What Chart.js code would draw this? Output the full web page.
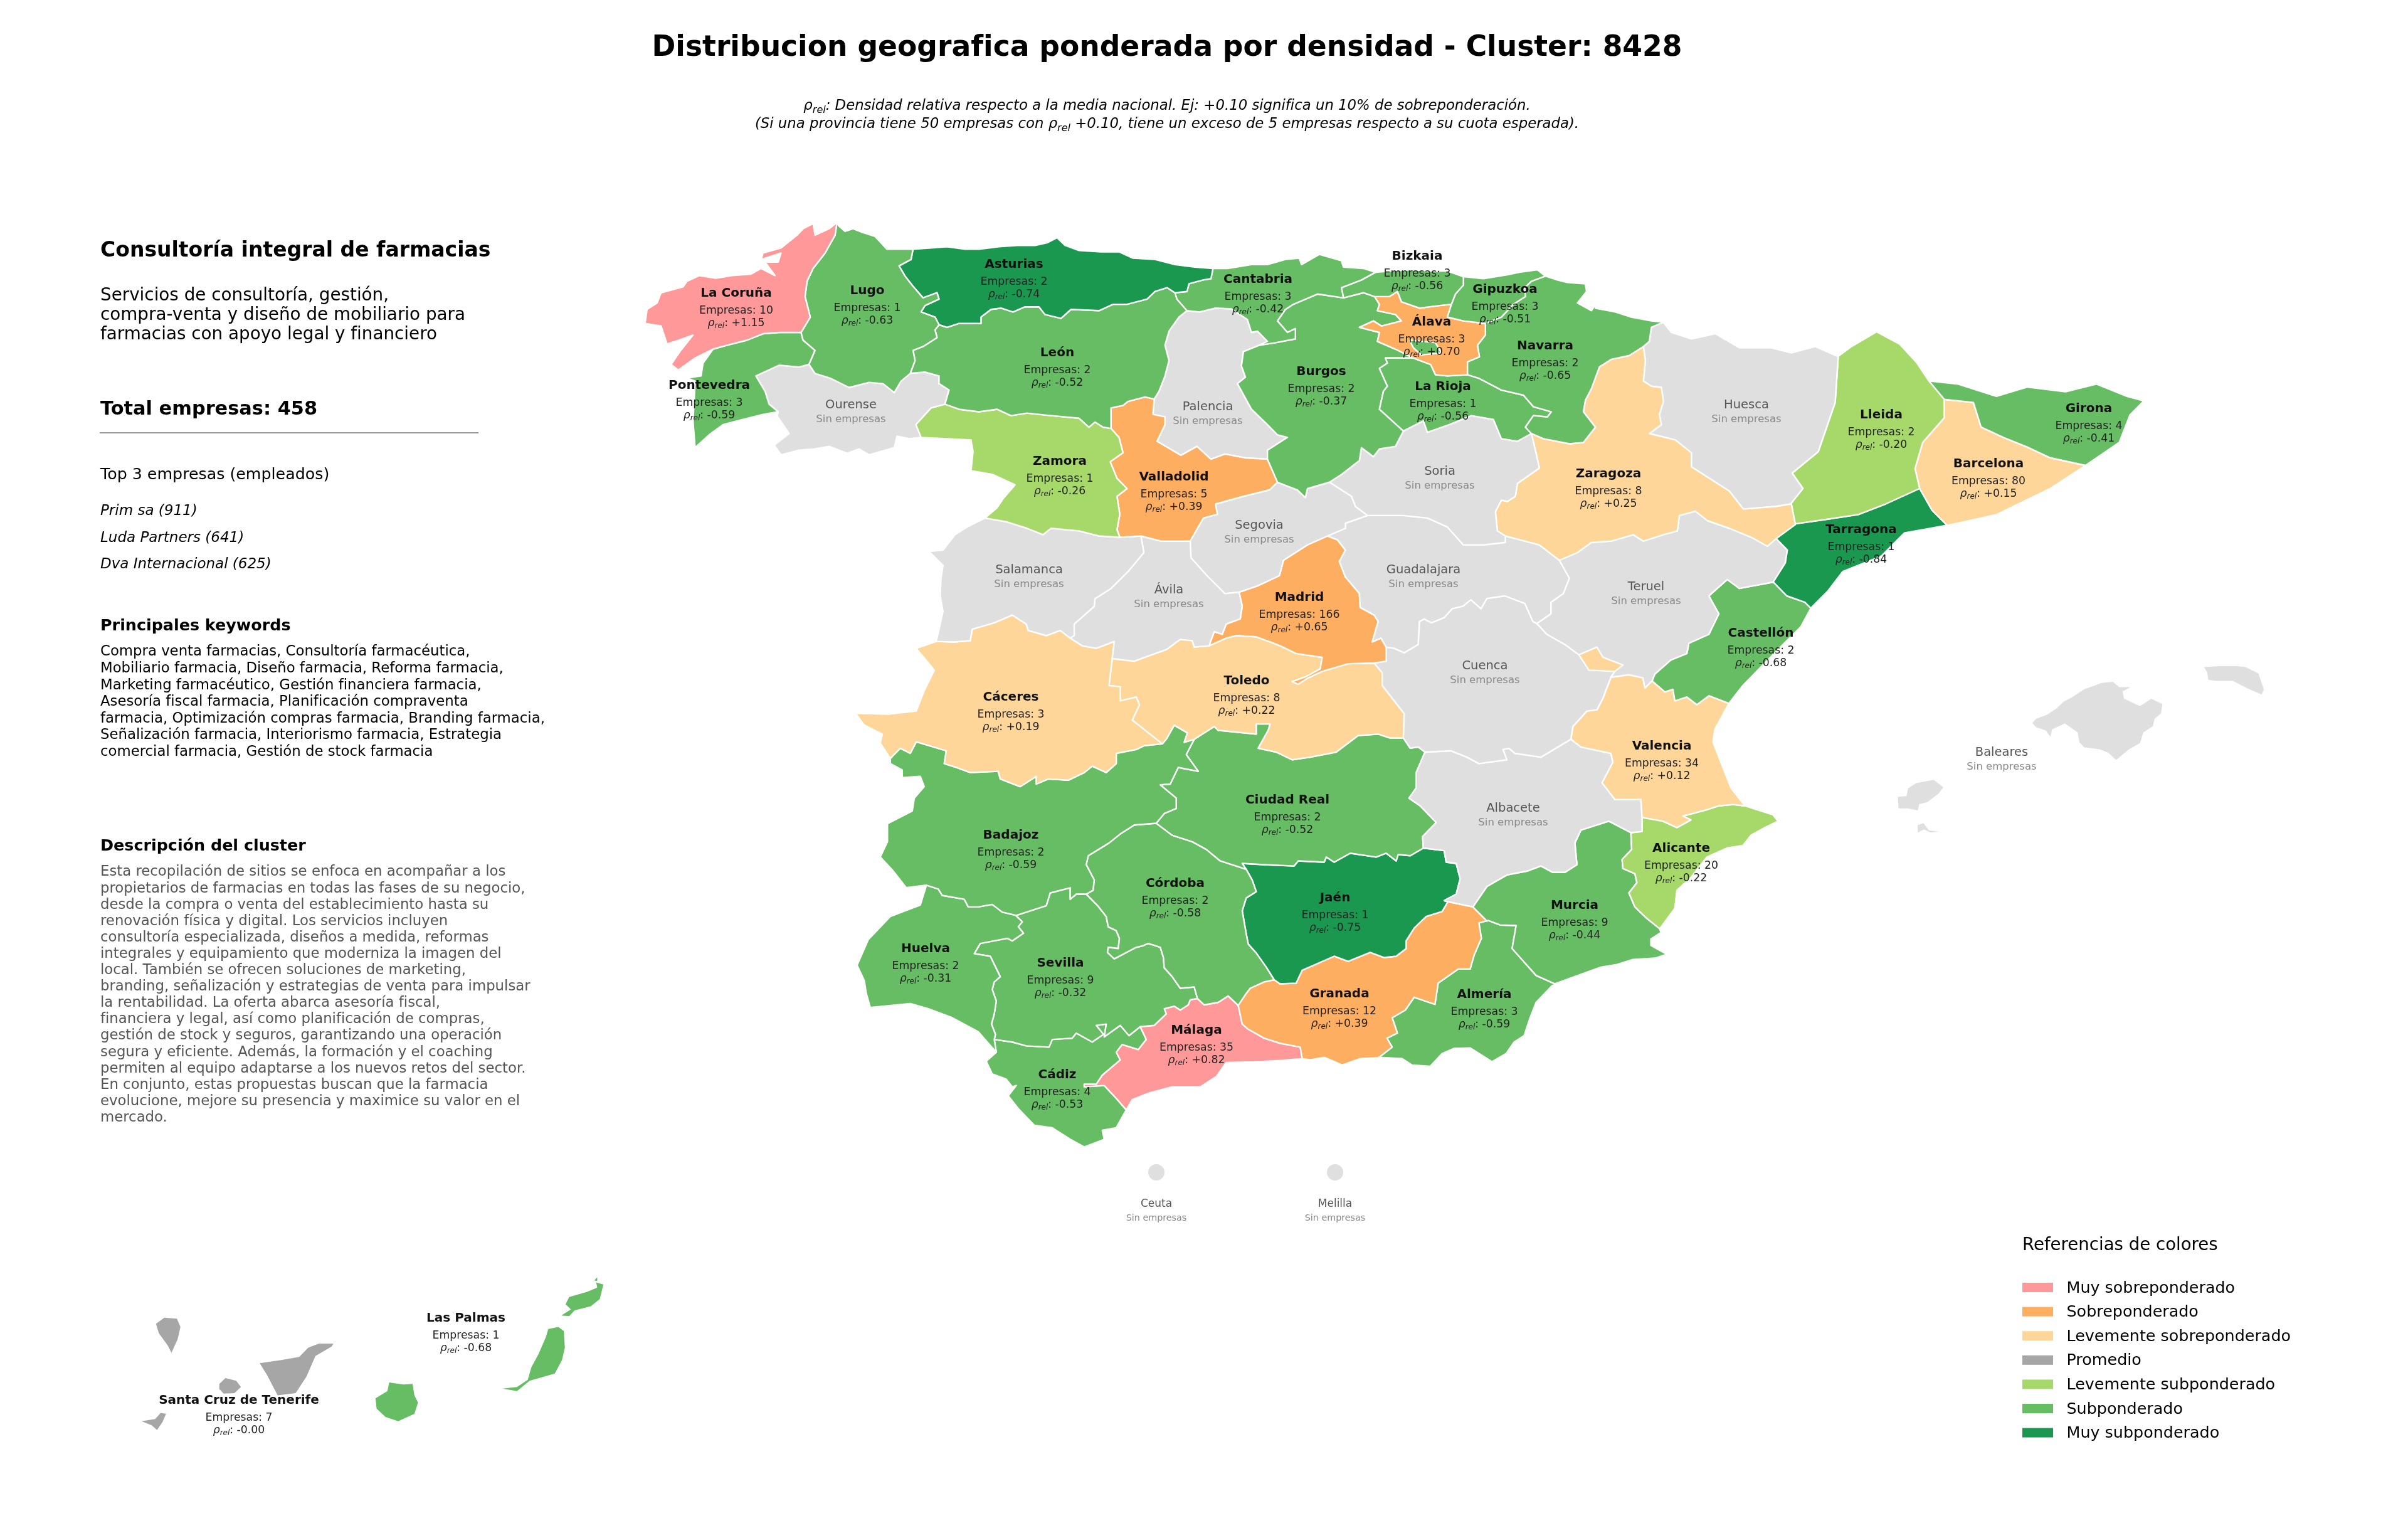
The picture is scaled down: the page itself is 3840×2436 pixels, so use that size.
<!DOCTYPE html>
<html lang="es">
<head>
<meta charset="utf-8">
<title>Distribucion geografica</title>
<script src="https://cdn.jsdelivr.net/npm/chart.js@4"></script>
<style>
  html,body{margin:0;padding:0;background:#fff}
  canvas{display:block}
</style>
</head>
<body>
<canvas id="map" width="3840" height="2436"></canvas>
<script>
// provinces and what the picture says about each
const provinceCodes = ['cor','lug','ast','can','biz','gip','ala','nav','rio','bur','leo','pon','our','zam','vll','pal','sal','avi','seg','sor','zar','hue','lle','gir','bar','tar','gua','mad','ter','cue','cac','tol','cas','vlc','alb','bad','ciu','ali','cdb','jae','mur','hlv','sev','gra','alm','mal','cad','bal','lpa','tfe','ceu','mel'];
const provinceNames = ['La Coruña','Lugo','Asturias','Cantabria','Bizkaia','Gipuzkoa','Álava','Navarra','La Rioja','Burgos','León','Pontevedra','Ourense','Zamora','Valladolid','Palencia','Salamanca','Ávila','Segovia','Soria','Zaragoza','Huesca','Lleida','Girona','Barcelona','Tarragona','Guadalajara','Madrid','Teruel','Cuenca','Cáceres','Toledo','Castellón','Valencia','Albacete','Badajoz','Ciudad Real','Alicante','Córdoba','Jaén','Murcia','Huelva','Sevilla','Granada','Almería','Málaga','Cádiz','Baleares','Las Palmas','Santa Cruz de Tenerife','Ceuta','Melilla'];
const empresas = [10,1,2,3,3,3,3,2,1,2,2,3,0,1,5,0,0,0,0,0,8,0,2,4,80,1,0,166,0,0,3,8,2,34,0,2,2,20,2,1,9,2,9,12,3,35,4,0,1,7,0,0];
const rhoRel = ['+1.15','-0.63','-0.74','-0.42','-0.56','-0.51','+0.70','-0.65','-0.56','-0.37','-0.52','-0.59',null,'-0.26','+0.39',null,null,null,null,null,'+0.25',null,'-0.20','-0.41','+0.15','-0.84',null,'+0.65',null,null,'+0.19','+0.22','-0.68','+0.12',null,'-0.59','-0.52','-0.22','-0.58','-0.75','-0.44','-0.31','-0.32','+0.39','-0.59','+0.82','-0.53',null,'-0.68','-0.00',null,null];

// legend
const legendLabels = ['Muy sobreponderado','Sobreponderado','Levemente sobreponderado','Promedio','Levemente subponderado','Subponderado','Muy subponderado'];
const legendColors = ['#FF9999','#FDAE61','#FED69A','#A6A6A6','#A6D96A','#66BD63','#1A9850'];
const noDataColor = '#DFDFDF';

// texts
const mainTitle = 'Distribucion geografica ponderada por densidad - Cluster: 8428';
const clusterName = 'Consultoría integral de farmacias';
const clusterSummary = ['Servicios de consultoría, gestión,','compra-venta y diseño de mobiliario para','farmacias con apoyo legal y financiero'];
const totalText = 'Total empresas: 458';
const topHeading = 'Top 3 empresas (empleados)';
const topCompanies = ['Prim sa (911)','Luda Partners (641)','Dva Internacional (625)'];
const keywordLines = ['Compra venta farmacias, Consultoría farmacéutica,','Mobiliario farmacia, Diseño farmacia, Reforma farmacia,','Marketing farmacéutico, Gestión financiera farmacia,','Asesoría fiscal farmacia, Planificación compraventa','farmacia, Optimización compras farmacia, Branding farmacia,','Señalización farmacia, Interiorismo farmacia, Estrategia','comercial farmacia, Gestión de stock farmacia'];
const descriptionLines = ['Esta recopilación de sitios se enfoca en acompañar a los','propietarios de farmacias en todas las fases de su negocio,','desde la compra o venta del establecimiento hasta su','renovación física y digital. Los servicios incluyen','consultoría especializada, diseños a medida, reformas','integrales y equipamiento que moderniza la imagen del','local. También se ofrecen soluciones de marketing,','branding, señalización y estrategias de venta para impulsar','la rentabilidad. La oferta abarca asesoría fiscal,','financiera y legal, así como planificación de compras,','gestión de stock y seguros, garantizando una operación','segura y eficiente. Además, la formación y el coaching','permiten al equipo adaptarse a los nuevos retos del sector.','En conjunto, estas propuestas buscan que la farmacia','evolucione, mejore su presencia y maximice su valor en el','mercado.'];

// map sheets: origin and unit size of the tracing grids
const sheets = {
  A:[1000,330,1000/1568,640/1568], B:[1900,330,1000/1568,640/1568],
  C:[1340,950,1000/1568,640/1568], D:[2250,950,1000/1568,640/1568],
  E:[1340,1400,1000/1568,640/1568], F:[2000,1300,1000/1568,640/1568],
  G:[2900,1030,800/1568,0.336], H:[150,2000,900/1568,0.33],
  O:[0,0,3840/1568,3840/1568]
};

// province borders, each written once, key = the two sides it separates
const arcs = [
  ['cor_lug','A','435,490 458,430 445,350 450,290 465,240 495,180 520,110 525,60'],
  ['cor_sea','A','525,60 505,85 470,110 465,65 440,85 425,110 385,160 340,180 335,205 385,180 378,215 345,215 370,268 335,240 310,262 262,268 222,278 180,268 150,290 140,312 85,335 75,375 50,400 45,455 85,465 100,535 130,520 165,500 132,565 110,615 128,637 170,590 215,555'],
  ['cor_pon','A','215,555 250,540 300,520 340,495 380,490 435,490'],
  ['pon_sea','A','215,555 190,610 185,660 150,668 170,680 165,840 170,940 205,890 240,850 290,830 340,810 378,800'],
  ['our_pon','A','378,800 355,770 345,720 322,660 380,618 430,625 455,615'],
  ['lug_pon','A','455,615 470,560 440,520 435,490'],
  ['lug_sea','A','525,60 530,75 545,95 565,85 590,100 620,115 650,165 715,165'],
  ['ast_lug','A','715,165 710,205 680,230 695,270 715,310 740,355 775,335 780,360 745,385 735,410 770,430 780,460'],
  ['leo_lug','A','780,460 770,480 775,510 740,545 715,560 720,600 708,650'],
  ['lug_our','A','708,650 685,680 668,725 640,690 605,685 555,705 510,670 470,650 455,615'],
  ['ast_sea','A','715,165 760,160 800,155 845,165 880,165 930,155 975,150 1020,150 1050,140 1075,120 1095,150 1130,170 1185,175 1230,175 1265,200 1320,205 1370,225 1420,235 1465,240'],
  ['ast_can','A','1465,240 1460,280 1440,285 1405,300 1400,330 1370,335'],
  ['ast_leo','A','1370,335 1350,315 1320,330 1300,360 1250,380 1215,380 1180,405 1110,400 1085,435 1045,420 1030,390 995,390 965,410 935,395 910,400 885,430 885,455 830,455 800,470 780,460'],
  ['can_leo','A','1370,335 1375,360 1400,405'],
  ['leo_pal','A','1400,405 1380,430 1355,485 1345,540 1355,600 1345,660 1330,720 1318,750'],
  ['leo_vll','A','1318,750 1295,742 1252,760 1240,775 1210,785 1210,865'],
  ['leo_zam','A','1210,865 1190,860 1170,840 1155,860 1130,825 1060,815 1000,805 960,815 925,790 880,800 830,790 795,770'],
  ['leo_our','A','795,770 805,715 780,690 780,660 745,645 708,650'],
  ['our_zam','A','795,770 760,785 722,850 735,900'],
  ['our_sea','A','735,900 705,905 675,895 668,940 605,968 580,945 550,962 505,935 470,945 430,950 385,968 368,930 405,885 375,815 378,800'],
  ['zam_sea','A','735,900 800,905 860,910 865,955 860,1030 915,1045 970,1085 940,1140 925,1175 895,1215'],
  ['sal_zam','A','895,1215 950,1230 1000,1255 1040,1280 1060,1255 1130,1265 1180,1285 1232,1290'],
  ['vll_zam','A','1232,1290 1225,1260 1232,1200 1225,1130 1250,1100 1225,1060 1208,995 1240,960 1230,900 1210,865'],
  ['pal_vll','A','1318,750 1315,810 1345,820 1345,850 1325,915 1385,970 1425,935 1460,985 1495,965 1546,980 1601,985'],
  ['seg_vll','A','1626,1075 1606,1105 1541,1130 1471,1160 1476,1200 1441,1215 1408,1305'],
  ['avi_vll','A','1408,1305 1370,1305 1335,1305 1285,1285'],
  ['sal_vll','A','1285,1285 1232,1290'],
  ['avi_sal','A','1285,1285 1292,1350 1255,1420 1210,1490 1170,1530 1168,1560 1118,1629 1118,1674 1108,1684'],
  ['avi_seg','A','1408,1305 1410,1370 1450,1440 1495,1510 1529,1505'],
  ['sal_sea','A','895,1215 850,1250 820,1280 790,1340 755,1345 790,1400 785,1450 783,1519 790,1580 773,1697'],
  ['can_pal','B','-11,405 20,410 60,395 100,398 140,440 150,490 165,485 190,525 170,540'],
  ['bur_pal','B','170,540 130,565 125,620 135,665 115,690 150,790 190,850 215,890 240,900 190,950 190,985'],
  ['bur_vll','B','190,985 215,1075'],
  ['bur_seg','B','215,1075 265,1105 285,1135 290,1100 345,1075'],
  ['bur_can','B','170,540 210,530 260,515 260,475 240,490 215,445 235,400 255,380 315,340 380,355'],
  ['can_sea','B','54,240 90,240 150,225 190,225 235,205 270,200 275,225 320,185 375,210 380,235 430,240 460,255'],
  ['biz_can','B','460,255 425,285 375,315 380,355'],
  ['biz_bur','B','380,355 430,335 458,350'],
  ['biz_sea','B','460,255 500,250 550,245 600,250 640,250 680,272'],
  ['biz_gip','B','680,272 680,305 660,340 650,380'],
  ['ala_biz','B','650,380 620,385 570,395 525,370 515,330 495,350 458,350'],
  ['ala_bur','B','458,350 470,380 465,405 510,420 525,445 475,465 455,445 420,470 470,490 465,525 510,555 555,590'],
  ['gip_sea','B','680,272 730,280 790,265 820,255 865,245 885,270'],
  ['gip_nav','B','885,270 850,290 833,315 835,350 805,380 775,430 735,455'],
  ['ala_gip','B','735,455 680,445 640,430 650,380'],
  ['ala_nav','B','735,455 735,500 715,540 720,585 690,605 690,655'],
  ['ala_rio','B','690,655 640,660 610,655 598,615 555,590'],
  ['bur_rio','B','555,590 525,590 485,590 490,610 470,630 490,700 480,720 470,790 530,875'],
  ['bur_sor','B','530,875 510,935 470,945 455,975 425,940 420,990 375,1045 345,1075'],
  ['rio_sor','B','530,875 580,835 590,880 645,850 700,815 755,830 775,905 815,915 850,885'],
  ['nav_rio','B','690,655 720,670 775,715 830,735 855,780 900,800 890,820 855,815 835,860 850,885'],
  ['nav_sea','B','885,270 915,285 940,295 985,300 988,330 965,375 1000,405 1015,370 1010,395 1060,410 1100,430 1150,445 1180,450'],
  ['hue_nav','B','1180,450 1150,470 1145,525 1130,545'],
  ['nav_zar','B','1130,545 1095,580 1050,595 1020,625 1000,710 985,755 980,800 1010,860 980,920 945,925 880,905 850,885'],
  ['hue_zar','B','1130,545 1135,600 1130,680 1150,700 1175,705 1180,760 1170,810 1175,850 1145,885 1210,910 1250,960 1250,1015 1290,1055 1345,1110 1380,1180 1460,1170 1500,1160'],
  ['hue_sea','B','1180,450 1200,490 1250,515 1310,495 1370,550 1450,550 1500,570 1560,545 1615,583'],
  ['sor_zar','B','850,885 860,950 870,1020 815,1080 810,1130 790,1150 775,1145 760,1190 765,1265 785,1285'],
  ['seg_sor','B','345,1075 400,1130 410,1170 440,1205'],
  ['gua_seg','B','440,1205 385,1235 385,1255 340,1285'],
  ['gua_sor','B','440,1205 530,1205 590,1215 640,1250 680,1320 730,1320 785,1310 785,1285'],
  ['gua_zar','B','785,1285 810,1295 870,1320 920,1380'],
  ['ter_zar','B','920,1380 965,1350 1000,1310 1050,1305 1105,1280 1130,1305 1180,1280 1215,1265 1220,1205 1260,1188 1290,1225 1345,1255 1400,1290 1440,1325 1462,1295'],
  ['zar_tar','B','1462,1295 1510,1240'],
  ['zar_lle','B','1500,1160 1510,1240'],
  ['ter_tar','B','1462,1295 1490,1340 1485,1390 1455,1465'],
  ['seg_mad','B','340,1285 290,1320 230,1380 220,1440 165,1480 118,1505'],
  ['hue_lle','O','1197,232 1195,262 1184,294 1167,308 1174,318 1166,328'],
  ['lle_sea','O','1197,232 1205,226 1222,216 1237,224 1248,236 1256,248'],
  ['lle_gir','O','1256,248 1266,260'],
  ['bar_lle','O','1266,260 1266,272 1252,288 1247,305 1250,318'],
  ['bar_gir','O','1266,260 1285,262 1290,278 1305,285 1320,291 1335,298 1358,303'],
  ['gir_sea','O','1256,248 1275,250 1300,258 1320,252 1345,255 1365,250 1385,258 1396,261 1387,270 1380,288 1358,303'],
  ['bar_sea','O','1358,303 1335,318 1300,335 1268,342'],
  ['bar_tar','O','1250,318 1258,332 1268,342'],
  ['lle_tar','O','1169,341 1190,338 1210,335 1228,328 1250,318'],
  ['tar_sea','O','1179,396 1190,385 1200,372 1225,362 1240,347 1268,342'],
  ['avi_mad','C','998,-9 1005,40 1000,90 965,110 955,150 935,140 922,195'],
  ['gua_mad','C','1218,-234 1243,-219 1263,-179 1248,-134 1263,-74 1298,-9 1300,45 1335,75 1345,100 1330,180 1352,165 1365,200'],
  ['cue_mad','C','1365,200 1365,255 1335,262'],
  ['mad_tol','C','922,195 965,165 990,155 1040,160 1075,180 1100,195 1140,225 1205,240 1200,285 1165,315 1130,335 1145,345 1170,320 1205,295 1270,265 1335,262'],
  ['cue_tol','C','1335,262 1355,300 1355,350 1410,460 1408,555'],
  ['gua_cue','C','1365,200 1385,205 1410,222 1445,190 1448,100 1460,90 1478,105 1510,85 1530,50'],
  ['gua_cue','D','103,50 130,40 150,15 175,50 190,10 235,0 285,30 305,100 315,108'],
  ['gua_ter','D','371,-139 396,-69 381,-9 350,25 350,70 315,108'],
  ['cue_ter','D','315,108 340,150 385,190 420,230 445,262 510,295 500,318'],
  ['cue_vlc','D','500,318 480,400 465,445 440,450 405,510 400,560'],
  ['alb_cue','D','400,560 325,630 260,615 245,595 230,600 240,640 170,655 140,630 100,605 35,610'],
  ['ciu_cue','C','1408,555 1425,595 1445,590 1462,610'],
  ['alb_ciu','C','1462,610 1440,690 1440,750 1422,790 1450,820 1490,885 1456,940 1458,985'],
  ['alb_jae','C','1458,985 1510,995 1515,1040 1540,1045 1550,1105 1540,1165 1510,1190'],
  ['ciu_jae','C','1015,1068 1005,1045 1060,1050 1135,1055 1145,1035 1210,1040 1215,1020 1235,1040 1275,1005 1340,1020 1365,1005 1390,1035 1395,1010 1425,1015 1458,985'],
  ['cdb_jae','C','1015,1068 1030,1110 1040,1155 1015,1180 1005,1230 1015,1320 1020,1360 1040,1395 1065,1450 1085,1500'],
  ['ciu_cdb','C','790,888 830,935 880,960 915,990 950,1035 1015,1068'],
  ['ciu_tol','C','885,560 935,510 945,525 1040,540 1040,500 1075,500 1070,525 1045,595 1090,610 1130,640 1175,630 1240,610 1295,545 1345,540 1375,555 1408,555'],
  ['bad_ciu','C','885,560 865,620 895,685 845,670 825,735 800,738 840,790 840,830 810,850 790,888'],
  ['bad_cdb','C','790,888 735,895 700,930 672,965 620,1015 615,1050 635,1110 632,1150 615,1165'],
  ['bad_sev','C','615,1165 590,1165 575,1185 575,1140 525,1160 515,1210 440,1248'],
  ['bad_hlv','C','440,1248 405,1235 380,1205 345,1215 320,1215 310,1185 255,1170 245,1145 215,1130'],
  ['bad_sea','C','215,1130 165,1140 150,1110 130,1070 100,1020 118,960 118,890 180,840 185,790 210,745 200,705 155,710 155,680 125,655 125,635'],
  ['bad_cac','C','125,635 150,595 175,615 190,570 265,605 260,655 290,670 325,690 395,685 400,715 450,745 490,705 490,735 520,715 570,720 610,690 630,665 665,690 690,655 690,615 740,600 760,585 805,578'],
  ['bad_tol','C','805,578 815,560 835,505 868,535 860,572 885,560'],
  ['cac_tol','C','805,578 730,485 748,425 740,395 700,410 700,355 672,350 680,245'],
  ['avi_cac','C','575,165 605,195 640,205 685,178 680,245'],
  ['cac_sal','C','240,178 285,180 325,175 330,130 385,105 430,75 465,110 470,135 515,155 550,135 575,165'],
  ['cac_sea','C','240,178 190,205 235,290 210,370 190,450 120,462 38,458 60,505 105,540 100,575 125,635'],
  ['avi_tol','C','680,245 735,255 770,235 815,210 850,170 880,175 885,200 922,195'],
  ['cas_tar','D','906,-54 940,0 985,25 1000,48'],
  ['cas_ter','D','906,-54 821,-29 791,-64 745,0 770,70 745,150 695,185 690,225 650,250 610,305 603,332'],
  ['cas_vlc','D','603,332 635,375 655,365 660,410 690,395 715,425 745,390 795,420'],
  ['cas_sea','D','795,420 830,350 855,310 880,270 930,190 975,120 1000,48'],
  ['ter_vlc','D','603,332 585,360 580,320 545,308 500,318'],
  ['alb_vlc','D','400,560 425,590 500,615 505,650 478,730 510,795 575,795 578,865'],
  ['ali_vlc','D','578,865 630,880 665,905 700,875 680,860 740,835 770,820 805,815 835,820'],
  ['vlc_sea','D','835,820 800,750 780,670 755,570 760,520 795,420'],
  ['alb_mur','D','155,1215 190,1135 240,1090 290,1075 325,1055 355,1080 385,1080 415,1050 410,965 425,915 495,880 550,925'],
  ['alb_ali','D','550,925 578,920 578,865'],
  ['ali_mur','D','550,925 552,990 528,1030 530,1065 560,1085 565,1120 545,1160 560,1215 590,1260 622,1300'],
  ['ali_sea','D','835,820 865,835 905,855 918,880 885,905 850,935 830,975 790,985 740,1020 700,1100 665,1150 660,1220 622,1300'],
  ['mur_sea','D','622,1300 625,1315 600,1340 600,1365 640,1400 610,1415 555,1420 515,1440 475,1450 440,1470 360,1515'],
  ['alb_gra','D','85,1192 155,1215'],
  ['gra_mur','D','155,1215 190,1270'],
  ['alm_mur','F','755,660 705,625 645,520 655,430 615,428 585,410'],
  ['alm_gra','F','585,410 562,420 568,480 550,545 540,600 510,600 460,655 452,738 400,710 378,760 345,790 358,850 332,870 345,905 312,945'],
  ['alm_sea','F','312,945 370,950 395,975 440,980 470,930 500,910 540,908 595,962 630,930 650,885 675,860 690,790 705,730 745,665 755,660'],
  ['gra_jae','F','485,335 470,375 430,395 400,440 380,490 380,520 355,550 325,555 290,535 235,570 200,550 120,605 105,655 65,658 50,642'],
  ['cdb_sev','E','615,62 645,110 665,150 670,190 690,205 698,235 695,275 670,270 668,290 685,315 740,270 755,265 770,255 800,270 808,310 810,350 830,385 850,430 885,425 893,470'],
  ['mal_sev','E','893,470 875,475 870,495 850,515 835,500 810,510 815,530 785,575 750,580'],
  ['sev_cad','E','750,580 722,615 700,575 660,620 665,570 640,575 658,610 630,640 590,605 580,625 530,630 522,660 465,655 430,640 385,630'],
  ['hlv_sev','E','440,148 455,170 445,190 458,215 430,245 418,235 350,255 335,295 375,305 400,385 385,405 380,435 390,480 385,530 378,570 388,610 385,630'],
  ['hlv_cad','E','385,630 390,680'],
  ['hlv_sea','E','390,680 345,600 280,545 220,510 175,490 75,505 65,450 60,400 42,340 70,240 125,150 200,105 215,30'],
  ['cad_sea','E','390,680 365,715 380,765 415,785 430,815 410,825 440,810 420,850 445,900 485,965 530,975 575,1020 610,1050 660,1020 655,985 690,975 715,905'],
  ['cad_mal','E','750,580 765,630 745,670 705,650 690,680 700,710 655,770 640,805 610,805 610,815 660,810 690,860 715,905'],
  ['mal_sea','E','715,905 730,865 770,840 830,815 900,815 940,775 965,720 1035,718 1100,712 1155,705'],
  ['gra_mal','E','1155,705 1150,660 1100,645 1060,625 1020,590 1005,570 995,497'],
  ['cdb_mal','E','995,497 970,460 945,485 910,495 893,470'],
  ['cdb_gra','E','995,497 1015,450 1025,430 1060,405 1085,397'],
  ['gra_sea','E','1155,705 1175,710 1210,700 1255,730 1300,705 1346,701']
];

// rings that stand alone: islands and enclaves, painted after the mainland
const extraRings = [
  ['bur','B','545,520 610,530 625,570 575,578 555,550'],
  ['vlc','D','420,230 465,200 480,240 530,270 510,295 445,290'],
  ['bal','G','668,365 680,345 715,325 745,295 765,265 795,240 830,205 885,175 920,170 940,195 975,195 950,215 955,250 1005,285 1040,250 1075,275 1070,320 1050,345 1045,380 1015,410 1005,460 970,490 930,540 905,505 880,490 830,480 815,455 810,410 770,367 730,395 725,430 710,400 680,385'],
  ['bal','G','1205,100 1250,95 1310,95 1335,100 1375,130 1385,175 1392,205 1385,230 1340,200 1295,165 1245,165 1218,160 1215,125'],
  ['bal','G','248,715 275,712 280,675 305,650 360,635 390,670 375,700 340,740 315,750 310,780 280,770 250,770'],
  ['bal','G','310,885 310,850 328,840 345,875 375,880 350,885 330,870'],
  ['tfe','H','172,335 195,305 230,310 240,350 232,410 215,475 205,440 180,380'],
  ['tfe','H','460,525 520,510 570,495 595,450 625,430 665,430 660,445 615,490 605,530 590,590 560,670 510,680 480,580'],
  ['tfe','H','348,625 365,597 395,610 408,640 390,670 360,672 348,650'],
  ['tfe','H','132,805 170,795 185,765 200,770 190,810 175,848 160,825'],
  ['lpa','H','782,695 815,660 820,618 860,628 885,625 890,680 900,715 890,770 845,805 810,785 785,745'],
  ['lpa','H','1135,648 1175,640 1205,605 1215,545 1235,480 1255,400 1262,360 1290,350 1305,370 1308,450 1300,510 1280,575 1210,610 1175,660'],
  ['lpa','H','1298,295 1325,265 1310,240 1320,205 1370,180 1398,160 1395,135 1415,145 1405,215 1380,250 1335,270 1320,298'],
  ['lpa','H','1390,125 1398,110 1398,128']
];

// Ceuta and Melilla are just dots on the map
const cityDots = {ceu:{x:1844,y:1869}, mel:{x:2129,y:1869}};

// where each province label goes, same order as provinceCodes
const labelX = [1174,1383,1617,2006,2260,2400,2283,2464,2301,2107,1686,1131,1357,1690,1872,1926,1641,1864,2008,2296,2565,2785,3000,3331,3171,2968,2270,2072,2625,2368,1612,1988,2808,2650,2413,1612,2053,2681,1874,2129,2511,1476,1691,2136,2367,1908,1686,3192,743,381,1844,2129];
const labelY = [465,461,419,443,406,459,511,549,614,590,560,612,643,733,758,646,906,938,835,749,753,643,659,649,737,842,906,950,933,1059,1109,1083,1007,1187,1286,1329,1273,1350,1406,1429,1441,1510,1533,1582,1583,1640,1711,1197,2099,2230,1917,1917];

const FONT = '"DejaVu Sans"';

function toMap(sheet, str){
  const [x0,y0,sx,sy] = sheets[sheet];
  return str.split(' ').map(p=>{
    const [a,b] = p.split(',').map(Number);
    return {x:x0+a*sx, y:y0+b*sy};
  });
}

// chain the borders of one province into a closed ring
function provinceRing(code){
  const rest = arcs.filter(a=>a[0].split('_').includes(code)).map(a=>toMap(a[1],a[2]));
  if(!rest.length) return null;
  let ring = rest.shift();
  const dist = (p,q)=>Math.hypot(p.x-q.x,p.y-q.y);
  while(rest.length){
    const end = ring[ring.length-1];
    let best = 0, flip = false, bestD = Infinity;
    rest.forEach((arc,i)=>{
      const d1 = dist(end,arc[0]), d2 = dist(end,arc[arc.length-1]);
      if(d1<bestD){bestD=d1;best=i;flip=false;}
      if(d2<bestD){bestD=d2;best=i;flip=true;}
    });
    const arc = rest.splice(best,1)[0];
    ring = ring.concat(flip?arc.slice().reverse():arc);
  }
  ring.push(ring[0]);
  return ring;
}

function colorFor(i){
  const r = rhoRel[i];
  if(r===null) return noDataColor;
  const v = parseFloat(r);
  if(v>0.7) return legendColors[0];
  if(v>=0.3) return legendColors[1];
  if(v>=0.05) return legendColors[2];
  if(v>-0.05) return legendColors[3];
  if(v>-0.3) return legendColors[4];
  if(v>=-0.7) return legendColors[5];
  return legendColors[6];
}

function ringDataset(label,data,color){
  return {label,data,showLine:true,fill:'shape',backgroundColor:color,borderColor:'#ffffff',borderWidth:2.4,borderJoinStyle:'round',pointRadius:0,tension:0};
}

const datasets = [];
provinceCodes.forEach((code,i)=>{
  const ring = provinceRing(code);
  if(ring) datasets.push(ringDataset(provinceNames[i],ring,colorFor(i)));
});
// chart.js paints dataset 0 last, so enclaves must come first to stay on top
extraRings.forEach(r=>{
  const i = provinceCodes.indexOf(r[0]);
  const pts = toMap(r[1],r[2]);
  pts.push(pts[0]);
  const ds = ringDataset(provinceNames[i],pts,colorFor(i));
  if(i>=provinceCodes.indexOf('bal')) ds.borderWidth = 0;
  datasets.unshift(ds);
});
Object.keys(cityDots).forEach(code=>{
  const i = provinceCodes.indexOf(code);
  datasets.push({label:provinceNames[i],data:[cityDots[code]],showLine:false,backgroundColor:noDataColor,borderWidth:0,pointRadius:13,pointHoverRadius:13});
});

// writes a line made of differently styled pieces
function drawRuns(ctx,x,y,runs,align){
  let total = 0;
  runs.forEach(r=>{ctx.font=r.font;total+=ctx.measureText(r.t).width;});
  let cx = align==='center' ? x-total/2 : x;
  ctx.textAlign='left';
  ctx.textBaseline='alphabetic';
  runs.forEach(r=>{
    ctx.font=r.font;
    ctx.fillStyle=r.color;
    ctx.fillText(r.t,cx,y+(r.dy||0));
    cx+=ctx.measureText(r.t).width;
  });
}

// canvas "middle" sits a little above the visual centre of the glyphs
function text(ctx,str,x,y,font,color,align){
  ctx.font=font; ctx.fillStyle=color; ctx.textAlign=align||'left'; ctx.textBaseline='middle';
  ctx.fillText(str,x,y+2.5);
}

const mapText = {
  id:'mapText',
  afterDraw(chart){
    const ctx = chart.ctx, sx = chart.scales.x, sy = chart.scales.y;
    const X = v=>sx.getPixelForValue(v), Y = v=>sy.getPixelForValue(v);
    ctx.save();

    // header
    text(ctx,mainTitle,X(1861),Y(75),`bold 45.6px ${FONT}`,'#000','center');
    const it = `italic 22.8px ${FONT}`, sub = `italic 16px ${FONT}`;
    drawRuns(ctx,X(1861),Y(175),[
      {t:'ρ',font:it,color:'#000'},{t:'rel',font:sub,color:'#000',dy:5},
      {t:': Densidad relativa respecto a la media nacional. Ej: +0.10 significa un 10% de sobreponderación.',font:it,color:'#000'}],'center');
    drawRuns(ctx,X(1861),Y(204),[
      {t:'(Si una provincia tiene 50 empresas con ',font:it,color:'#000'},{t:'ρ',font:it,color:'#000'},{t:'rel',font:sub,color:'#000',dy:5},
      {t:' +0.10, tiene un exceso de 5 empresas respecto a su cuota esperada).',font:it,color:'#000'}],'center');

    // left column
    const left = X(160);
    text(ctx,clusterName,left,Y(398),`bold 33px ${FONT}`,'#000');
    clusterSummary.forEach((l,i)=>text(ctx,l,left,Y(469+i*31),`27.8px ${FONT}`,'#000'));
    text(ctx,totalText,left,Y(651),`bold 30.4px ${FONT}`,'#000');
    ctx.strokeStyle='#999'; ctx.lineWidth=2;
    ctx.beginPath(); ctx.moveTo(X(159),Y(690)); ctx.lineTo(X(763),Y(690)); ctx.stroke();
    text(ctx,topHeading,left,Y(755),`25.3px ${FONT}`,'#000');
    topCompanies.forEach((l,i)=>text(ctx,l,left,Y(813+i*42.3),`italic 23px ${FONT}`,'#000'));
    text(ctx,'Principales keywords',left,Y(996),`bold 25.4px ${FONT}`,'#000');
    keywordLines.forEach((l,i)=>text(ctx,l,left,Y(1037+i*26.6),`22.8px ${FONT}`,'#000'));
    text(ctx,'Descripción del cluster',left,Y(1347),`bold 25.4px ${FONT}`,'#000');
    descriptionLines.forEach((l,i)=>text(ctx,l,left,Y(1388+i*26.1),`22.8px ${FONT}`,'#555'));

    // province labels
    provinceCodes.forEach((code,i)=>{
      const x = X(labelX[i]), y = Y(labelY[i]);
      if(rhoRel[i]===null){
        const small = code==='ceu'||code==='mel';
        text(ctx,provinceNames[i],x,y,`${small?17:19.5}px ${FONT}`,'#555','center');
        text(ctx,'Sin empresas',x,y+23,`${small?14.3:16.5}px ${FONT}`,'#888','center');
        return;
      }
      text(ctx,provinceNames[i],x,y,`bold 20px ${FONT}`,'#111','center');
      text(ctx,'Empresas: '+empresas[i],x,y+28,`17.3px ${FONT}`,'#222','center');
      drawRuns(ctx,x,y+55,[
        {t:'ρ',font:`italic 17.3px ${FONT}`,color:'#222'},
        {t:'rel',font:`italic 12px ${FONT}`,color:'#222',dy:3},
        {t:': '+rhoRel[i],font:`17.3px ${FONT}`,color:'#222'}],'center');
    });

    // colour key
    text(ctx,'Referencias de colores',X(3225),Y(1983),`27.6px ${FONT}`,'#000');
    legendLabels.forEach((l,i)=>{
      const yc = 2052.5+i*38.6;
      ctx.fillStyle=legendColors[i];
      ctx.fillRect(X(3225),Y(yc-7.5),49,15);
      text(ctx,l,X(3295.5),Y(yc-1),`25.4px ${FONT}`,'#000');
    });
    ctx.restore();
  }
};

new Chart(document.getElementById('map'),{
  type:'scatter',
  data:{datasets},
  options:{
    responsive:false,
    animation:false,
    devicePixelRatio:1,
    events:[],
    layout:{padding:0,autoPadding:false},
    scales:{
      x:{type:'linear',min:0,max:3840,display:false},
      y:{type:'linear',min:0,max:2436,reverse:true,display:false}
    },
    plugins:{legend:{display:false},tooltip:{enabled:false},title:{display:false}}
  },
  plugins:[mapText]
});
</script>
</body>
</html>
